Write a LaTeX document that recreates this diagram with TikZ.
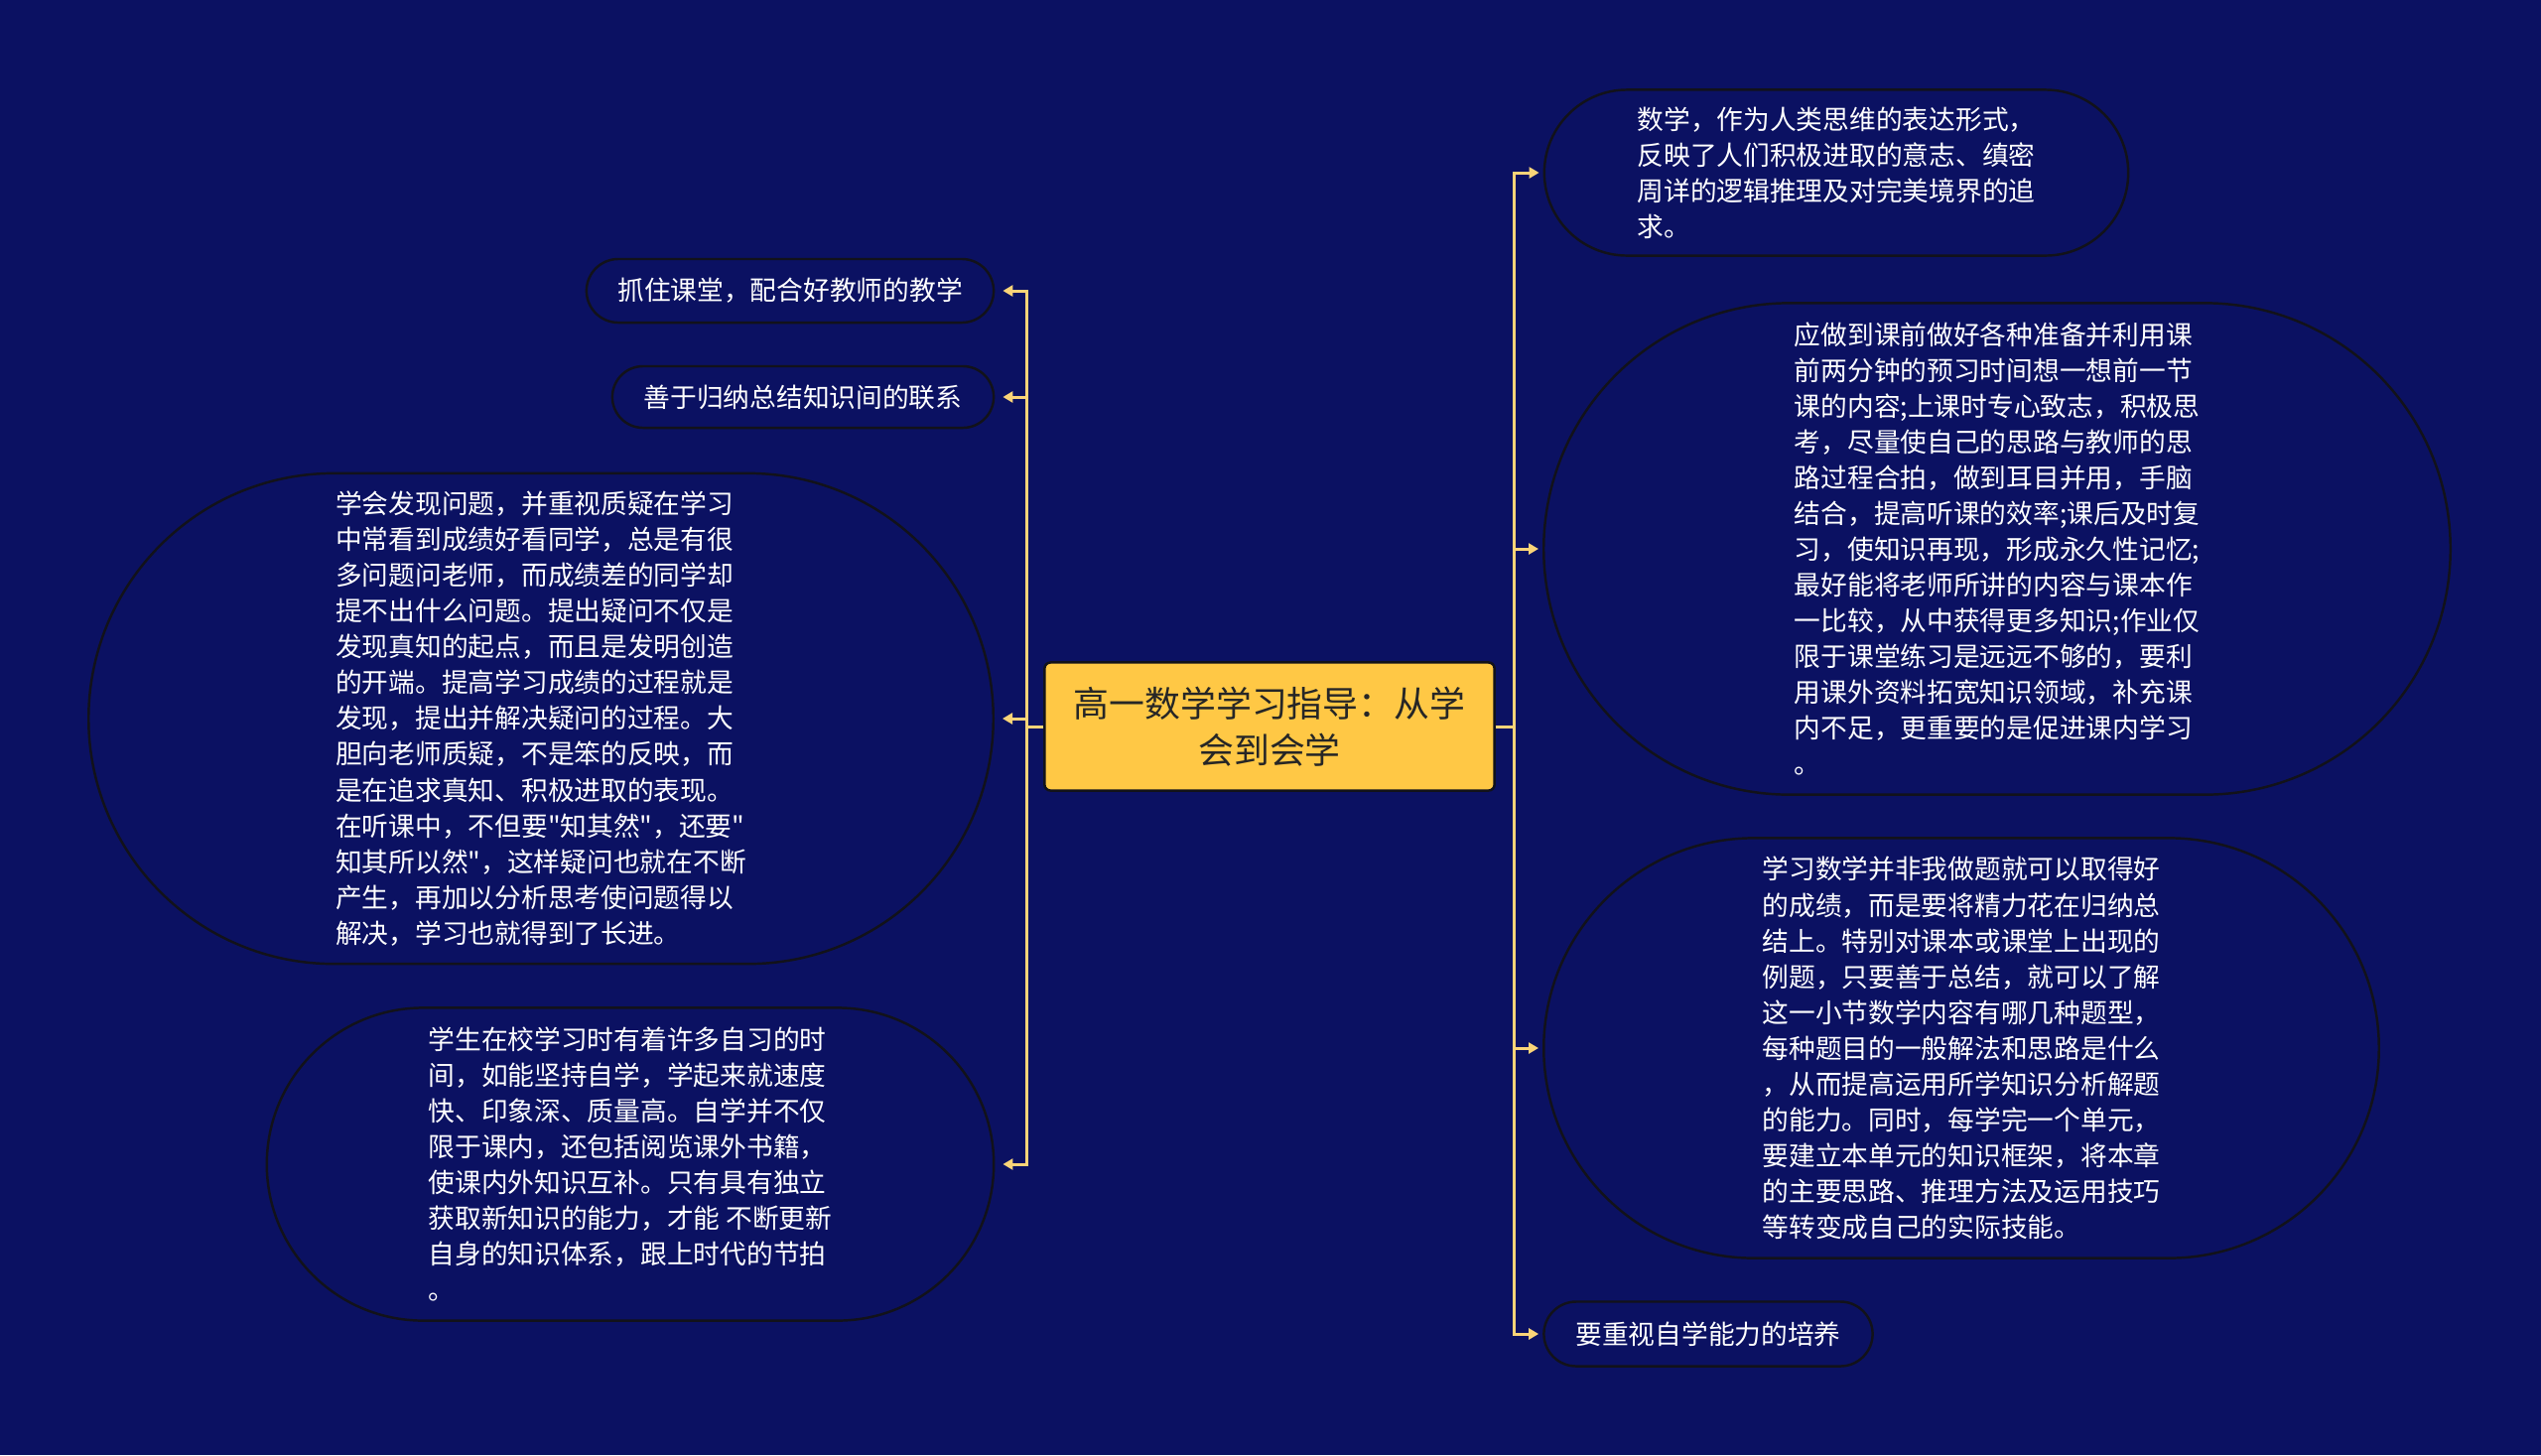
\documentclass[tikz,border=0pt]{standalone}
\usepackage{fontspec}
\newfontfamily\cjk{Noto Sans CJK SC}
\usepackage{tikz}
\usetikzlibrary{arrows.meta,calc,positioning,shapes.misc}

\definecolor{navy}{RGB}{11,17,98}
\definecolor{gold}{RGB}{255,200,69}
\definecolor{wire}{RGB}{250,212,120}
\definecolor{rim}{RGB}{18,18,26}

\begin{document}
\begin{tikzpicture}[>={Triangle[length=0.1cm,width=0.11cm]}]
  % Text sizes (body text and title)
  \def\bodyfont{\cjk\fontsize{7.6}{10.25}\selectfont}
  \def\hubfont{\cjk\fontsize{10.2}{13.4}\selectfont}
  \tikzset{
    hub/.style  = {draw=rim, line width=0.7pt, fill=gold, rounded corners=0.06cm, text=black!85, align=center, font=\hubfont, inner sep=0pt},
    leaf/.style = {rounded rectangle, draw=rim, line width=0.7pt, text=white, align=left, font=\bodyfont, inner sep=0pt},
    link/.style = {draw=wire, line width=0.85pt, ->}
  }

  % Pixel grid: 1 unit = 1px of the 2560 x 1466 canvas, y downwards
  \begin{scope}[x=0.01cm,y=-0.01cm]
    \fill[navy] (0,0) rectangle (2560,1466);
    \useasboundingbox (0,0) rectangle (2560,1466);

    % --- Root ---
    \node[hub, minimum width=4.53cm, minimum height=1.29cm] (hub) at (1279,732)
      {高一数学学习指导：从学\\会到会学};

    % --- Right branch ---
    \node[leaf, minimum width=5.88cm, minimum height=1.67cm] (r1) at (1850,174)
      {数学，作为人类思维的表达形式，\\反映了人们积极进取的意志、缜密\\周详的逻辑推理及对完美境界的追\\求。};
    \node[leaf, minimum width=9.13cm, minimum height=4.95cm] (r2) at (2012,553)
      {应做到课前做好各种准备并利用课\\前两分钟的预习时间想一想前一节\\课的内容;上课时专心致志，积极思\\考，尽量使自己的思路与教师的思\\路过程合拍，做到耳目并用，手脑\\结合，提高听课的效率;课后及时复\\习，使知识再现，形成永久性记忆;\\最好能将老师所讲的内容与课本作\\一比较，从中获得更多知识;作业仅\\限于课堂练习是远远不够的，要利\\用课外资料拓宽知识领域，补充课\\内不足，更重要的是促进课内学习\\。};
    \node[leaf, minimum width=8.41cm, minimum height=4.23cm] (r3) at (1976,1056)
      {学习数学并非我做题就可以取得好\\的成绩，而是要将精力花在归纳总\\结上。特别对课本或课堂上出现的\\例题，只要善于总结，就可以了解\\这一小节数学内容有哪几种题型，\\每种题目的一般解法和思路是什么\\，从而提高运用所学知识分析解题\\的能力。同时，每学完一个单元，\\要建立本单元的知识框架，将本章\\的主要思路、推理方法及运用技巧\\等转变成自己的实际技能。};
    \node[leaf, minimum width=3.31cm, minimum height=0.65cm] (r4) at (1721,1344)
      {要重视自学能力的培养};

    % --- Left branch ---
    \node[leaf, minimum width=4.10cm, minimum height=0.64cm] (l1) at (796,293)
      {抓住课堂，配合好教师的教学};
    \node[leaf, minimum width=3.84cm, minimum height=0.62cm] (l2) at (809,400)
      {善于归纳总结知识间的联系};
    \node[leaf, minimum width=9.11cm, minimum height=4.94cm] (l3) at (545,724)
      {学会发现问题，并重视质疑在学习\\中常看到成绩好看同学，总是有很\\多问题问老师，而成绩差的同学却\\提不出什么问题。提出疑问不仅是\\发现真知的起点，而且是发明创造\\的开端。提高学习成绩的过程就是\\发现，提出并解决疑问的过程。大\\胆向老师质疑，不是笨的反映，而\\是在追求真知、积极进取的表现。\\在听课中，不但要"知其然"，还要"\\知其所以然"，这样疑问也就在不断\\产生，再加以分析思考使问题得以\\解决，学习也就得到了长进。};
    \node[leaf, minimum width=7.32cm, minimum height=3.15cm] (l4) at (635,1173)
      {学生在校学习时有着许多自习的时\\间，如能坚持自学，学起来就速度\\快、印象深、质量高。自学并不仅\\限于课内，还包括阅览课外书籍，\\使课内外知识互补。只有具有独立\\获取新知识的能力，才能 不断更新\\自身的知识体系，跟上时代的节拍\\。};

    % --- Elbow connectors ---
    \coordinate (jl) at (1034,732);
    \coordinate (jr) at (1525,732);
    \foreach \n in {l1,l2,l3,l4}
      \draw[link, shorten >=0.08cm] (hub.west) -- (jl) |- (\n.east);
    \foreach \n in {r1,r2,r3,r4}
      \draw[link, shorten >=0.04cm] (hub.east) -- (jr) |- (\n.west);
  \end{scope}
\end{tikzpicture}
\end{document}
